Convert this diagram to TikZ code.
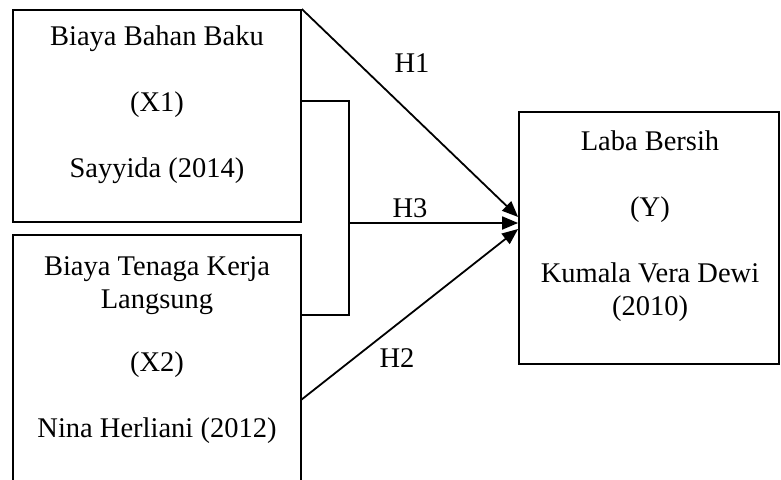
\documentclass[tikz,border=0pt]{standalone}
\usepackage{fontspec}
\setmainfont{Liberation Serif}
\usetikzlibrary{arrows.meta,calc}

\begin{document}
\begin{tikzpicture}[x=1pt, y=-1pt, font=\fontsize{28.5}{33}\selectfont,
    box/.style={draw, line width=1.8pt, inner sep=0pt},
    txt/.style={align=center, inner sep=0pt},
    arr/.style={-{Triangle[length=16pt,width=13pt]}, line width=1.8pt}]
    \clip (0,0) rectangle (781,479);

    % variabel
    \node[box, minimum width=288pt, minimum height=212pt] (x1) at (157,116) {};
    \node[txt] (x1t) at (157,105) {Biaya Bahan Baku\\[33pt] (X1)\\[33pt] Sayyida (2014)};

    \node[box, minimum width=288pt, minimum height=260pt] (x2) at (157,365) {};
    \node[txt] (x2t) at (157,350) {Biaya Tenaga Kerja\\ Langsung\\[30pt] (X2)\\[33pt] Nina Herliani (2012)};

    \node[box, minimum width=260pt, minimum height=252pt] (y) at (649,238) {};
    \node[txt] (yt) at (650,226) {Laba Bersih\\[33pt] (Y)\\[33pt] Kumala Vera Dewi\\ (2010)};

    % hubungan
    \coordinate (b1) at (301,101);
    \coordinate (b2) at (301,315);
    \coordinate (jn) at (349,223);
    \coordinate (h2) at (301,400);

    \draw[arr] (x1.north east) -- ($(y.west)+(0,-21)$);
    \node (h1l) at (412,63) {H1};

    \draw[line width=1.8pt] (b1) -| (jn) |- (b2);
    \draw[arr] (jn) -- ($(y.west)+(0,-15)$);
    \node (h3l) at (410,208) {H3};

    \draw[arr] (h2) -- ($(y.west)+(0,-9)$);
    \node (h2l) at (397,358) {H2};

\end{tikzpicture}
\end{document}
